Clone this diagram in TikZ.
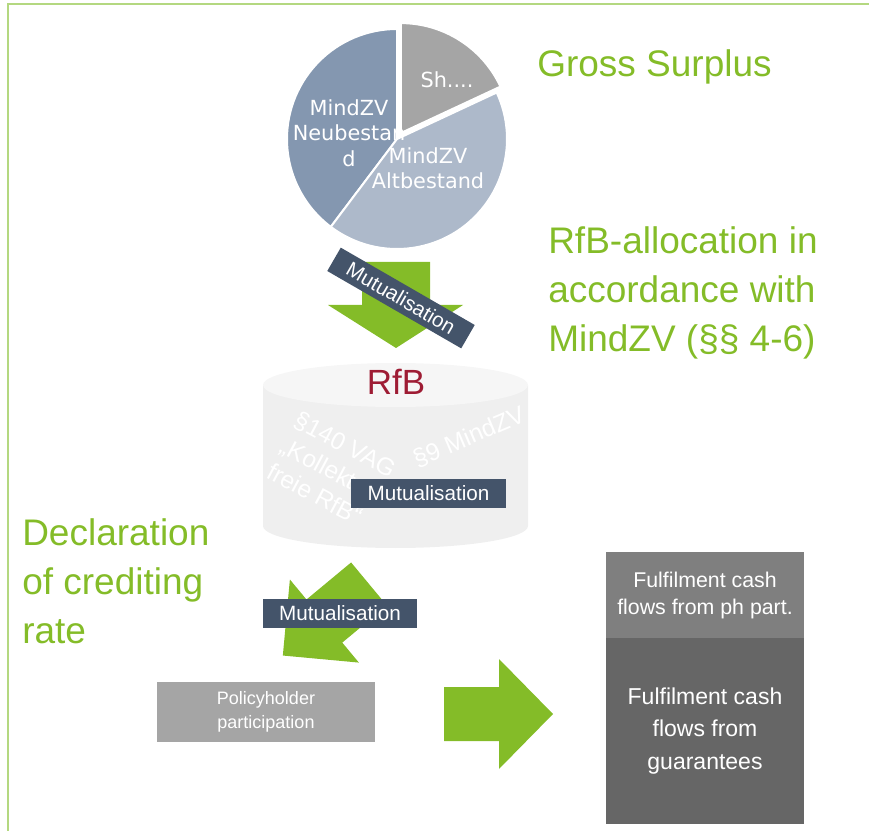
\documentclass[tikz,border=0pt]{standalone}
\usepackage{fontspec}
\setmainfont{Liberation Sans}
\newfontfamily\piefont{DejaVu Sans}
\usepackage{tikz}
\usetikzlibrary{positioning}
\definecolor{sgreen}{RGB}{132,188,40}
\definecolor{lgreen}{RGB}{180,216,128}
\definecolor{slate}{RGB}{68,84,106}
\definecolor{neucol}{RGB}{132,151,176}
\definecolor{altcol}{RGB}{173,185,202}
\definecolor{shcol}{RGB}{165,165,165}
\definecolor{rfbred}{RGB}{158,28,52}
\definecolor{cyltop}{RGB}{246,246,246}
\definecolor{cylbody}{RGB}{239,239,239}
\definecolor{fcfph}{RGB}{127,127,127}
\definecolor{fcfgu}{RGB}{102,102,102}

\begin{document}
\begin{tikzpicture}
[x=0.75pt,y=-0.75pt,
 title/.style={text=sgreen,inner sep=0pt,align=left,font=\fontsize{27.75}{36.75}\selectfont},
 mut/.style={fill=slate,text=white,inner sep=0pt,minimum width=116pt,minimum height=21.75pt,font=\fontsize{15.5}{18}\selectfont},
 pielab/.style={text=white,inner sep=0pt,align=center,font=\piefont\fontsize{15.6}{19.1}\selectfont},
 wmark/.style={text=white,inner sep=0pt,align=left,font=\fontsize{18.4}{21.75}\selectfont},
 garrow/.style={fill=sgreen},
 cfbox/.style={text=white,inner sep=0pt,align=center,minimum width=148.5pt}]
\useasboundingbox (0,0) rectangle (869,831);
% frame
\draw[lgreen,line width=1.5pt] (869,4) -- (8,4) -- (8,831);

% gross surplus pie
\begin{scope}[shift={(397,139)},yscale=-1]
\filldraw[fill=neucol,draw=white,line width=1.5pt] (0,0) -- (90:110) arc (90:233:110) -- cycle;
\filldraw[fill=altcol,draw=white,line width=1.5pt] (0,0) -- (233:110) arc (233:385:110) -- cycle;
\filldraw[fill=shcol,draw=white,line width=1.5pt,shift={(57.5:7)}] (0,0) -- (25:110) arc (25:90:110) -- cycle;
\end{scope}
\node[pielab,anchor=north] (neu) at (349,99) {MindZV\\Neubestan\\d};
\node[pielab,anchor=north] (alt) at (428,147) {MindZV\\Altbestand};
\node[pielab,anchor=base] (sh) at (447,88) {Sh....};

% allocation to the RfB
\fill[garrow] (362,262) -- (430,262) -- (430,305) -- (463,305) -- (396,348) -- (328,305) -- (362,305) -- cycle;
\node[mut,rotate=-30,minimum height=20.25pt] (mut1) at (401,298) {Mutualisation};

% RfB
\fill[cylbody] (263,385) -- (263,526) arc (180:0:132.5 and 22) -- (528,385) -- cycle;
\fill[cyltop] (395.5,385) ellipse (132.5 and 22);
\node[text=rfbred,inner sep=0pt,anchor=base,font=\fontsize{26.25}{30}\selectfont] (rfb) at (396,395) {RfB};
\node[wmark,rotate=-28] (vag) at (332,470) {§140 VAG\\„Kollekt\\freie RfB“};
\node[wmark,rotate=23] (mzv) at (469,437) {§9 MindZV};
\node[mut] (mut2) at (428.5,493.5) {Mutualisation};

% crediting rate
\fill[garrow,shift={(369,584)},rotate=219.7] (0,-28) -- (58,-28) -- (58,-54) -- (112,0) -- (58,54) -- (58,28) -- (0,28) -- cycle;
\node[mut] (mut3) at (340,613.5) {Mutualisation};
\node[cfbox,fill=shcol,minimum width=163.5pt,minimum height=45pt,font=\fontsize{13.5}{18}\selectfont] (php) at (266,712) {Policyholder\\participation};
\fill[garrow] (444,687) -- (499,687) -- (499,659) -- (553,714) -- (499,769) -- (499,741) -- (444,741) -- cycle;

% fulfilment cash flows
\node[cfbox,fill=fcfgu,minimum height=139.5pt,font=\fontsize{17.25}{24.4}\selectfont] (fcfgu) at (705,731) {Fulfilment cash\\flows from\\guarantees};
\node[cfbox,fill=fcfph,minimum height=64.5pt,font=\fontsize{16}{20.25}\selectfont,above=-0.6pt of fcfgu] (fcfph) {Fulfilment cash\\flows from ph part.};

% titles
\node[title,anchor=base west] (gross) at (537,77) {Gross Surplus};
\node[title,anchor=north west] (alloc) at (548,226) {RfB-allocation in\\accordance with\\MindZV (§§ 4-6)};
\node[title,anchor=north west] (decl) at (22,518) {Declaration\\of crediting\\rate};
\end{tikzpicture}
\end{document}
